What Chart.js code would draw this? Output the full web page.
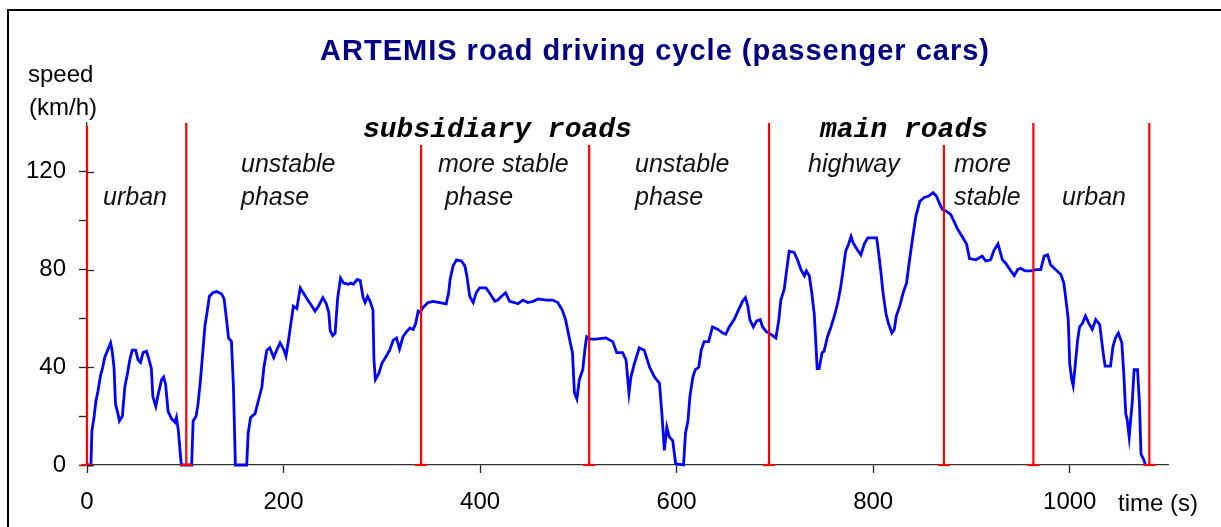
<!DOCTYPE html>
<html>
<head>
<meta charset="utf-8">
<title>ARTEMIS road driving cycle</title>
<script src="https://cdn.jsdelivr.net/npm/chart.js@4.4.0/dist/chart.umd.min.js"></script>
<style>
  html, body { margin: 0; padding: 0; background: #fff; }
  canvas { display: block; }
</style>
</head>
<body>
<canvas id="chart" width="1221" height="527"></canvas>
<script>
/* =========================
   DATA
========================= */
// time (s) / speed (km/h)
const times = [
  0, 4, 5, 7, 9, 11, 14, 16, 18, 21, 24, 25.5, 27.5, 29, 31.5, 33, 36, 38.5, 41, 43.5,
  46, 49.5, 52, 54.5, 57, 60.5, 62.5, 65.5, 67, 70, 72.5, 76, 78, 80, 82.5, 86, 89.5, 91, 93, 95,
  96, 106.5, 108, 111, 113, 115.5, 118, 120, 122, 124.5, 128, 132, 137, 139.5, 142, 144, 147, 149, 151, 162.5,
  164, 166.5, 171, 174.5, 178, 180, 183, 186, 190, 193, 196.5, 200.5, 202.5, 205, 207.5, 210, 213.5, 217, 220, 225.5,
  229, 232, 235.5, 240, 243.5, 246, 247.5, 250, 252.5, 255, 258, 261, 266, 268.5, 271, 275, 278, 281, 283, 285.5,
  288, 291, 292, 293.5, 297, 300, 304.5, 308, 311.5, 315, 318, 321.5, 325, 328.5, 332, 334.5, 337, 339, 342, 347,
  352, 359, 365.5, 368, 369.5, 372.5, 376, 381, 384.5, 386.5, 389.5, 393, 396, 399.5, 406, 409.5, 415, 418, 421.5, 426,
  430, 435, 438.5, 443.5, 448.5, 454, 459, 467, 474, 479, 483.5, 487, 490.5, 494, 496, 498.5, 501, 504.5, 507, 508.5,
  512, 518, 528, 535, 539, 545, 548.5, 551.5, 553.5, 557, 562, 567, 572.5, 577.5, 582.5, 585, 587.5, 590, 592.5, 596,
  599, 607, 609, 611.5, 613.5, 616.5, 619, 622.5, 625, 628, 632.5, 636.5, 642, 647, 650, 653.5, 658.5, 663, 667, 670,
  672.5, 674.5, 678, 681.5, 685, 687.5, 691.5, 696, 701, 704, 706, 709.5, 712, 714.5, 719.5, 723, 726.5, 730, 732, 735,
  737.5, 740, 741.5, 743, 745, 748, 750, 753.5, 757, 760.5, 764, 767, 769.5, 772, 775, 777.5, 779.5, 784, 787.5, 791,
  794.5, 799, 803.5, 805.5, 808, 810, 813, 815.5, 819, 821.5, 823.5, 827, 830.5, 834, 836.5, 840, 843.5, 847.5, 852, 856,
  861, 864.5, 867, 870.5, 874, 879, 882.5, 886, 890.5, 895, 898, 904.5, 911, 914.5, 919.5, 923, 927, 931.5, 935, 940,
  943.5, 947, 950, 954.5, 960, 966, 970.5, 974, 977.5, 980.5, 985.5, 991, 994, 996.5, 998.5, 1000, 1002, 1003.5, 1005.5, 1008,
  1010, 1013, 1016, 1019.5, 1023, 1026.5, 1030.5, 1034, 1036, 1041.5, 1044, 1046.5, 1049.5, 1053, 1055, 1057, 1058.5, 1060.5, 1062, 1063.5,
  1065.5, 1069, 1071, 1072.5, 1075.5, 1077
];
const speeds = [
  0, 0, 14, 19, 26, 30, 37, 40, 44, 47, 50, 47, 40, 25, 21, 18, 20, 32, 37, 43,
  47, 47, 43, 42, 46, 46.5, 44, 39.5, 28, 24, 29, 35, 36, 33, 22, 19, 17.5, 19.5, 14, 4.5,
  0, 0, 18, 20, 25, 35, 47, 57, 62, 69, 70.5, 71, 70, 68, 59.5, 52, 50.5, 32, 0, 0,
  13, 19.5, 21, 26.5, 32, 40, 47, 48, 44, 47, 50, 47, 44.5, 51, 58, 65, 64, 72.5, 70.5, 67,
  65, 63, 65, 68.5, 66, 62.5, 55, 53, 54, 68, 76.5, 74.5, 74, 74.5, 74, 76, 75.5, 68.5, 66.5, 69,
  67, 63.5, 43, 35, 37.5, 41.5, 44.5, 47, 51, 52, 47.5, 52.5, 54.5, 56, 55.5, 58, 63, 62.5, 64.5, 66.5,
  67, 66.5, 66, 70.5, 76, 81.5, 84, 83.5, 81.5, 77.5, 69, 66.5, 70.5, 72.5, 72.5, 70.5, 67, 67.5, 69, 70.5,
  67, 66.5, 66, 67.5, 66.5, 67, 68, 67.5, 67.5, 66.5, 63.5, 59.5, 52.5, 46, 29.5, 27, 35, 39, 48.5, 52.5,
  51.5, 51.5, 52, 50.5, 46, 46, 43, 29.5, 36, 41.5, 48, 47, 40, 36, 33.5, 21, 6, 15.5, 11.5, 10,
  0.5, 0, 13, 18, 28, 36, 39, 40, 47, 50.5, 50.5, 56.5, 55.5, 54, 53.5, 56.5, 59.5, 63.5, 67, 68.5,
  65, 59.5, 56.5, 59, 59.5, 56.5, 54.5, 53.5, 52, 59.5, 67.5, 72, 80, 87.5, 87, 84, 80, 77.5, 79.5, 77.5,
  70.5, 62, 51, 39.5, 39.5, 46, 46.5, 52.5, 56.5, 61, 66.5, 73, 80, 87.5, 90.5, 93.5, 91, 88, 86, 90.5,
  93, 93, 93, 87, 78.5, 70.5, 62, 58, 54, 55.5, 61, 65, 70.5, 74.5, 82.5, 92.5, 102, 108, 109.5, 110,
  111.5, 110, 107.5, 104.5, 104, 102.5, 99.5, 96.5, 93.5, 90.5, 84.5, 84, 85.5, 83.5, 84, 88, 90.5, 84, 82.5, 79.5,
  77.5, 80, 80.5, 79.5, 79.5, 80, 80, 85.5, 86, 82, 80, 78, 74.5, 66.5, 59.5, 41.5, 35, 32.5, 40.5, 51,
  56.5, 58, 61, 58, 55.5, 59.5, 57.5, 46, 40.5, 40.5, 48.5, 52, 54, 50, 37.5, 21, 18.5, 11.5, 18.5, 25,
  39, 39, 25, 4.5, 2, 0
];

// phase boundaries (s) and height of the red markers (km/h)
const phaseTimes = [0, 101, 340, 511, 694, 872, 963, 1081];
const phaseTops = [139, 140, 131, 131, 140, 131, 140, 140];

// axes
const xTickValues = [0, 200, 400, 600, 800, 1000];
const yTickValues = [0, 20, 40, 60, 80, 100, 120];
const yLabelValues = [0, 40, 80, 120];

// texts
const chartTitle = "ARTEMIS road driving cycle (passenger cars)";
const yTitle = ["speed", "(km/h)"];
const xTitle = "time (s)";
const roadLabels = ["subsidiary roads", "main roads"];
const phaseLabels = [
  ["urban"], ["unstable", "phase"], ["more stable", " phase"], ["unstable", "phase"],
  ["highway"], ["more", "stable"], ["urban"]
];

/* =========================
   STYLE
========================= */
const FONT = "Arial, 'Liberation Sans', sans-serif";
const MONO = "'Courier New', 'Liberation Mono', monospace";

/* =========================
   TEXTS + FRAME (plugin)
========================= */
const decor = {
  id: "decor",
  afterDraw(chart) {
    const ctx = chart.ctx;
    const y = chart.scales.y;
    ctx.save();

    // frame (cut off at right and bottom)
    ctx.strokeStyle = "#000";
    ctx.lineWidth = 2;
    ctx.beginPath();
    ctx.moveTo(8, 527);
    ctx.lineTo(8, 10);
    ctx.lineTo(1221, 10);
    ctx.stroke();

    // inner half of the labelled y ticks (cross ticks)
    ctx.strokeStyle = "#222";
    ctx.lineWidth = 1.3;
    yLabelValues.forEach(v => {
      const py = Math.round(y.getPixelForValue(v)) + 0.5;
      ctx.beginPath();
      ctx.moveTo(y.right, py);
      ctx.lineTo(y.right + 7, py);
      ctx.stroke();
    });

    // title
    ctx.fillStyle = "#000080";
    ctx.font = "bold 29px " + FONT;
    ctx.letterSpacing = "1px";
    ctx.textAlign = "center";
    ctx.textBaseline = "alphabetic";
    ctx.fillText(chartTitle, 655, 60);
    ctx.letterSpacing = "0px";

    // axis titles
    ctx.fillStyle = "#000";
    ctx.font = "24px " + FONT;
    ctx.textAlign = "left";
    ctx.fillText(yTitle[0], 28, 82);
    ctx.fillText(yTitle[1], 29, 115);
    ctx.fillText(xTitle, 1118, 511);

    // road type labels
    ctx.font = "italic bold 28px " + MONO;
    ctx.fillText(roadLabels[0], 363, 137);
    ctx.fillText(roadLabels[1], 820, 137);

    // phase labels
    const phaseX = [103, 241, 438, 635, 808, 954, 1062];
    const phaseY = [[205], [172, 205], [172, 205], [172, 205], [172], [172, 205], [205]];
    ctx.font = "italic 25px " + FONT;
    ctx.fillStyle = "#111";
    phaseLabels.forEach((lines, i) => {
      lines.forEach((txt, j) => ctx.fillText(txt, phaseX[i], phaseY[i][j]));
    });

    ctx.restore();
  }
};

/* =========================
   DATASETS
========================= */
const speedData = times.map((t, i) => ({ x: t, y: speeds[i] }));

const phaseSets = phaseTimes.map((t, i) => ({
  data: [{ x: t, y: 0 }, { x: t, y: phaseTops[i] }],
  showLine: true,
  borderColor: "#ff0000",
  borderWidth: 2.2,
  pointStyle: "line",
  pointRadius: [6, 0],
  pointBorderColor: "#ff0000",
  pointBorderWidth: 2.2,
  clip: false,
  order: 0
}));

/* =========================
   CHART
========================= */
const chart = new Chart(document.getElementById("chart"), {
  type: "scatter",
  data: {
    datasets: [
      ...phaseSets,
      {
        data: speedData,
        showLine: true,
        borderColor: "#0000ff",
        borderWidth: 2.8,
        pointRadius: 0,
        tension: 0,
        clip: false,
        order: 1
      }
    ]
  },
  options: {
    responsive: false,
    animation: false,
    devicePixelRatio: 1,
    layout: { padding: { left: 0, right: 53, top: 123, bottom: 0 } },
    plugins: { legend: { display: false }, tooltip: { enabled: false } },
    scales: {
      x: {
        type: "linear",
        min: 0,
        max: 1100,
        afterBuildTicks: s => { s.ticks = xTickValues.map(v => ({ value: v })); },
        afterFit: s => { s.height = 62; },
        ticks: {
          color: "#000",
          font: { family: FONT, size: 24 },
          padding: 15,
          maxRotation: 0,
          callback: v => String(v)
        },
        grid: { drawOnChartArea: false, tickLength: 8, tickColor: "#222", tickWidth: 1.3 },
        border: { color: "#333", width: 1.3 }
      },
      y: {
        min: 0,
        max: 140,
        afterBuildTicks: s => { s.ticks = yTickValues.map(v => ({ value: v })); },
        afterFit: s => { s.width = 87; },
        ticks: {
          color: "#000",
          font: { family: FONT, size: 24 },
          padding: 13,
          callback: v => (yLabelValues.includes(v) ? String(v) : "")
        },
        grid: { drawOnChartArea: false, tickLength: 8, tickColor: "#222", tickWidth: 1.3 },
        border: { color: "#333", width: 1.3 }
      }
    }
  },
  plugins: [decor]
});
</script>
</body>
</html>
